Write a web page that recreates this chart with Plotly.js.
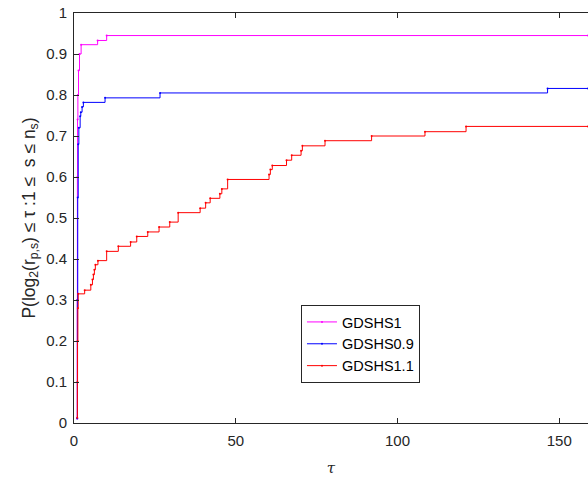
<!DOCTYPE html>
<html>
<head>
<meta charset="utf-8">
<script src="https://cdn.plot.ly/plotly-3.0.1.min.js"></script>
<style>html,body{margin:0;padding:0;background:#fff;overflow:hidden;}</style>
</head>
<body>
<div id="chart" style="width:588px;height:480px;"></div>
<script>
// Series names
const seriesNames = ['GDSHS1', 'GDSHS0.9', 'GDSHS1.1'];

// GDSHS1 (magenta)
const tau1 = [1.0, 1.0, 1.05, 1.1, 1.2, 1.4, 1.7, 2.2, 7.3, 10.1, 158.9];
const val1 = [0.011, 0.3, 0.6, 0.74, 0.8, 0.86, 0.9, 0.9227, 0.933, 0.945, 0.945];

// GDSHS0.9 (blue)
const tau2 = [1.0, 1.05, 1.15, 1.3, 1.5, 1.9, 2.1, 2.5, 2.9, 9.6, 26.6, 146.4, 158.9];
const val2 = [0.011, 0.3, 0.55, 0.68, 0.72, 0.748, 0.758, 0.771, 0.782, 0.793, 0.805, 0.816, 0.816];

// GDSHS1.1 (red)
const tau3 = [1.0, 1.05, 1.1, 1.2, 1.3, 3.3, 5.2, 5.7, 6.0, 6.3, 6.6, 7.4, 10.1, 13.7, 17.5, 19.4, 22.8, 26.3, 29.6, 32.2, 39.0, 40.7, 42.1, 45.1, 45.7, 47.5, 60.3, 60.7, 61.3, 65.7, 67.3, 70.2, 70.6, 77.6, 92.0, 108.5, 121.2, 158.9];
const val3 = [0.013, 0.1, 0.2, 0.28, 0.315, 0.324, 0.337, 0.35, 0.362, 0.374, 0.386, 0.396, 0.4186, 0.431, 0.4415, 0.455, 0.466, 0.478, 0.490, 0.513, 0.524, 0.537, 0.548, 0.559, 0.571, 0.594, 0.606, 0.618, 0.628, 0.641, 0.653, 0.664, 0.676, 0.6885, 0.700, 0.7105, 0.7234, 0.7234];

// Axis ticks
const xTicks = [0, 50, 100, 150];
const yTicks = [0, 0.1, 0.2, 0.3, 0.4, 0.5, 0.6, 0.7, 0.8, 0.9, 1];
const yTickText = ['0', '0.1', '0.2', '0.3', '0.4', '0.5', '0.6', '0.7', '0.8', '0.9', '1'];
const xRange = [0, 158.9];

const colors = ['#ff00ff', '#0000ff', '#ff0000'];
const axisColor = '#262626';

function trace(x, y, name, color) {
  return {
    x: x, y: y, name: name, type: 'scatter', mode: 'lines+markers',
    line: {color: color, width: 1, shape: 'hv'},
    marker: {color: color, size: 2},
    hoverinfo: 'x+y+name'
  };
}

const data = [
  trace(tau1, val1, seriesNames[0], colors[0]),
  trace(tau2, val2, seriesNames[1], colors[1]),
  trace(tau3, val3, seriesNames[2], colors[2]),
  {x: [], y: [], xaxis: 'x2', yaxis: 'y', showlegend: false, hoverinfo: 'skip', type: 'scatter'}
];

const layout = {
  width: 588, height: 480,
  margin: {l: 74, r: 0, t: 13, b: 57},
  paper_bgcolor: '#ffffff', plot_bgcolor: '#ffffff',
  font: {family: '"Liberation Sans", Arial, sans-serif', size: 15, color: axisColor},
  showlegend: true,
  xaxis: {
    range: xRange, tickvals: xTicks, ticktext: xTicks.map(String),
    ticks: 'inside', ticklen: 5, tickcolor: axisColor, tickwidth: 1,
    ticklabelstandoff: 4,
    showline: true, linecolor: axisColor, linewidth: 1,
    showgrid: false, zeroline: false, mirror: false,
    title: {text: '<i>τ</i>', standoff: 14, font: {size: 15, family: '"DejaVu Serif", serif', color: axisColor}}
  },
  xaxis2: {
    range: xRange, overlaying: 'x', side: 'top', anchor: 'y',
    tickvals: xTicks, ticks: 'inside', ticklen: 5, tickcolor: axisColor,
    showticklabels: false, showline: true, linecolor: axisColor, linewidth: 1,
    showgrid: false, zeroline: false
  },
  yaxis: {
    range: [0, 1], tickvals: yTicks, ticktext: yTickText,
    ticks: 'inside', ticklen: 5, tickcolor: axisColor, tickwidth: 1,
    ticklabelstandoff: 3,
    showline: true, linecolor: axisColor, linewidth: 1,
    showgrid: false, zeroline: false, mirror: false,
    title: {text: 'P(log<sub>2</sub>(r<sub>p,s</sub>) ≤ τ :1 ≤  s ≤ n<sub>s</sub>)', standoff: 6, font: {size: 17.5, color: axisColor}}
  },
  legend: {
    x: 0.4416, y: 0.2878, xanchor: 'left', yanchor: 'top',
    bgcolor: '#ffffff', bordercolor: axisColor, borderwidth: 1,
    font: {size: 14.5, color: '#000000'}, tracegroupgap: 0
  }
};

Plotly.newPlot('chart', data, layout, {displayModeBar: false, staticPlot: true});
</script>
</body>
</html>
